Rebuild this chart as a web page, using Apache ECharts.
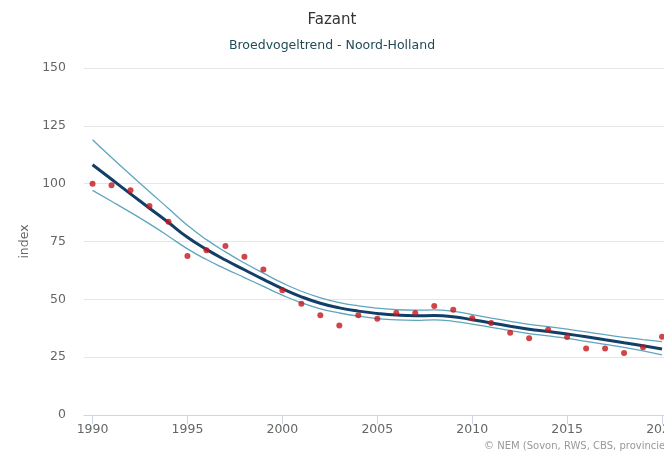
<!DOCTYPE html>
<html>
<head>
<meta charset="utf-8">
<script src="https://cdn.jsdelivr.net/npm/echarts@6/dist/echarts.min.js"></script>
<style>
  html, body { margin: 0; padding: 0; background: #fff; width: 664px; height: 451px; overflow: hidden; }
  /* wider than the window: the original is cropped on the right */
  #chart { width: 700px; height: 451px; }
</style>
</head>
<body>
<div id="chart"></div>
<script>
const years = [1990, 1991, 1992, 1993, 1994, 1995, 1996, 1997, 1998, 1999,
  2000, 2001, 2002, 2003, 2004, 2005, 2006, 2007, 2008, 2009,
  2010, 2011, 2012, 2013, 2014, 2015, 2016, 2017, 2018, 2019, 2020]

// red dots: yearly index
const indexValues = [100, 99.3, 97.2, 90.3, 83.5, 68.7, 71.2, 73.1, 68.4, 62.9,
  53.9, 48.1, 43.1, 38.7, 43.1, 41.6, 44.1, 44.1, 47.1, 45.5,
  41.8, 39.8, 35.6, 33.2, 36.8, 33.7, 28.8, 28.8, 26.8, 29.3, 33.8]

// smoothed trend + confidence band
const trend = [108.2, 101.9, 95.6, 89.4, 83.2, 76.8, 71.6, 67.0, 62.8, 58.6,
  54.6, 51.1, 48.3, 46.3, 44.9, 43.9, 43.2, 42.9, 43.0, 42.5,
  41.2, 39.8, 38.4, 37.1, 36.1, 35.0, 33.8, 32.5, 31.2, 29.9, 28.5]
const upper = [119.0, 111.3, 103.9, 96.5, 89.3, 82.0, 75.8, 70.5, 65.7, 61.3,
  57.1, 53.5, 50.7, 48.6, 47.2, 46.2, 45.5, 45.3, 45.4, 44.8,
  43.4, 41.9, 40.5, 39.2, 38.2, 37.1, 35.9, 34.7, 33.6, 32.6, 31.7]
const lower = [97.1, 92.4, 87.6, 82.6, 77.3, 71.8, 67.2, 63.2, 59.4, 55.6,
  51.8, 48.5, 45.9, 44.1, 42.7, 41.7, 41.1, 40.9, 41.1, 40.5,
  39.3, 37.9, 36.5, 35.2, 34.2, 33.1, 31.8, 30.5, 29.2, 27.7, 26.0]

const xTicks = [1990, 1995, 2000, 2005, 2010, 2015, 2020]

const pairs = arr => years.map((y, i) => [y, arr[i]])

const font = 'DejaVu Sans, Lucida Grande, Arial, sans-serif'
const bandColor = '#5fa5bd'

const chart = echarts.init(document.getElementById('chart'))
chart.setOption({
  animation: false,
  textStyle: { fontFamily: font },
  grid: { left: 84, top: 68, bottom: 36, right: 0 },
  xAxis: {
    type: 'value',
    min: 1989.55,
    max: 2022,
    splitLine: { show: false },
    axisLine: { lineStyle: { color: '#ccd6eb' } },
    axisTick: { length: 9, lineStyle: { color: '#ccd6eb' }, customValues: xTicks },
    axisLabel: {
      customValues: xTicks, color: '#666', fontSize: 12.5, margin: 8, fontFamily: font,
      formatter: v => String(v)
    }
  },
  yAxis: {
    type: 'value',
    min: 0,
    max: 150,
    interval: 25,
    name: 'index',
    nameLocation: 'middle',
    nameRotate: 90,
    nameGap: 48,
    nameTextStyle: { color: '#666', fontSize: 12.5, fontFamily: font },
    axisLine: { show: false },
    axisTick: { show: false },
    splitLine: { lineStyle: { color: '#e6e6e6' } },
    axisLabel: { color: '#666', fontSize: 12.5, margin: 18, fontFamily: font }
  },
  series: [
    {
      type: 'line', data: pairs(upper), smooth: 0.5, symbol: 'none',
      lineStyle: { color: bandColor, width: 1.3 }, z: 2
    },
    {
      type: 'line', data: pairs(lower), smooth: 0.5, symbol: 'none',
      lineStyle: { color: bandColor, width: 1.3 }, z: 2
    },
    {
      type: 'line', data: pairs(trend), smooth: 0.5, symbol: 'none',
      lineStyle: { color: '#123f68', width: 3 }, z: 3
    },
    {
      type: 'scatter', data: pairs(indexValues), symbolSize: 6,
      itemStyle: { color: '#c4161c' }, z: 4
    }
  ],
  graphic: [
    {
      type: 'text', x: 332, y: 13,
      style: { text: 'Fazant', fill: '#333', font: '15px ' + font, textAlign: 'center' }
    },
    {
      type: 'text', x: 332, y: 39,
      style: { text: 'Broedvogeltrend - Noord-Holland', fill: '#1f4b57', font: '12.5px ' + font, textAlign: 'center' }
    },
    {
      type: 'text', x: 484, y: 441,
      style: { text: '© NEM (Sovon, RWS, CBS, provincies)', fill: '#999', font: '10px ' + font }
    }
  ]
})
</script>
</body>
</html>
